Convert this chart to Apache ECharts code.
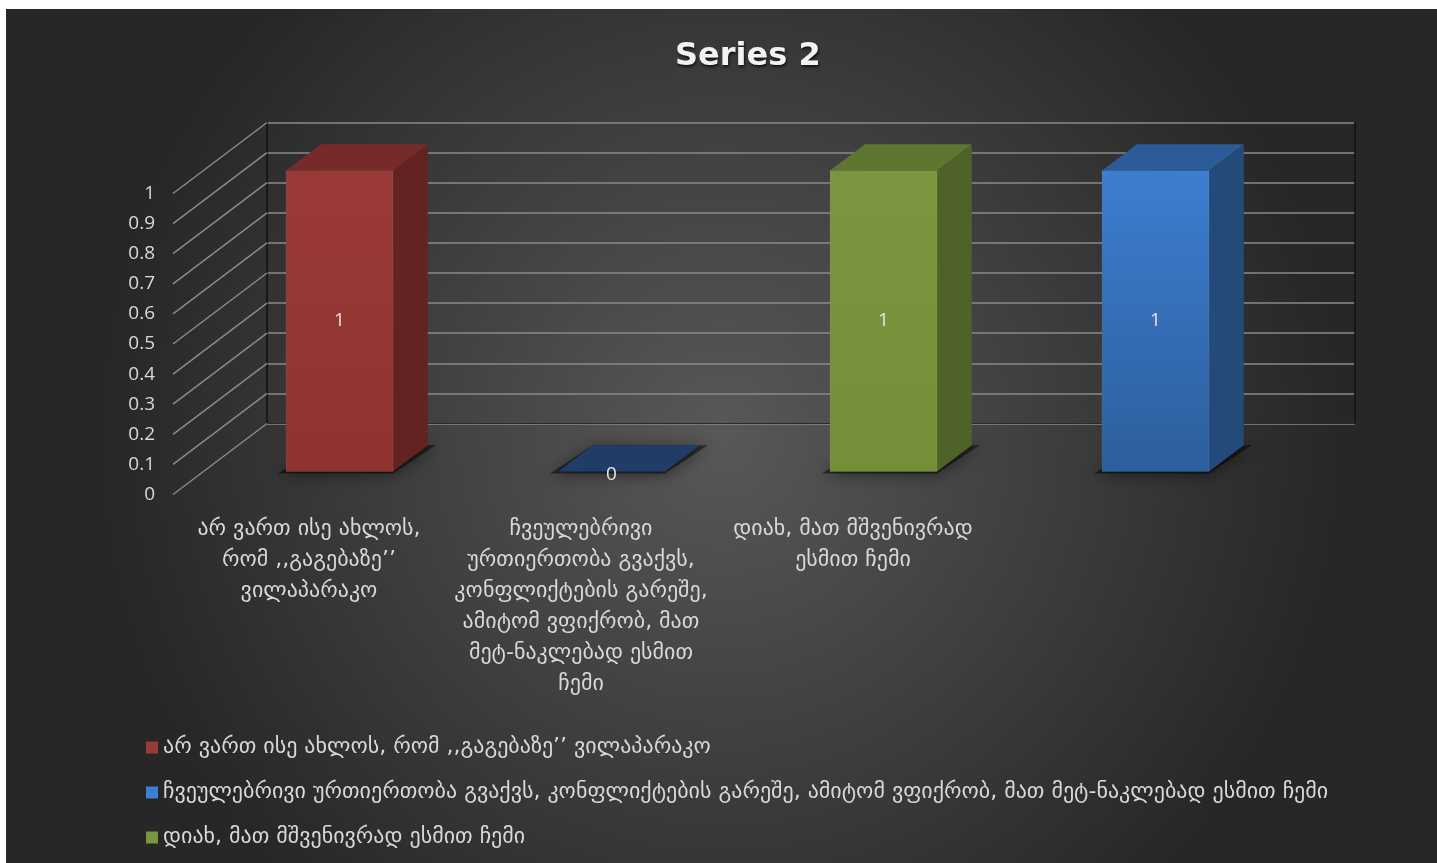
<!DOCTYPE html>
<html>
<head>
<meta charset="utf-8">
<script src="https://cdn.jsdelivr.net/npm/echarts@6/dist/echarts.min.js"></script>
<style>
html,body{margin:0;padding:0;background:#ffffff;}
#chart{width:1437px;height:863px;}
</style>
</head>
<body>
<div id="chart"></div>
<script>
// ---- data ----
const categories = [
  'არ ვართ ისე ახლოს, რომ ,,გაგებაზე’’ ვილაპარაკო',
  'ჩვეულებრივი ურთიერთობა გვაქვს, კონფლიქტების გარეშე, ამიტომ ვფიქრობ, მათ მეტ-ნაკლებად ესმით ჩემი',
  'დიახ, მათ მშვენივრად ესმით ჩემი',
  ''
];
const categoryLabels = [
  'არ ვართ ისე ახლოს,\nრომ ,,გაგებაზე’’\nვილაპარაკო',
  'ჩვეულებრივი\nურთიერთობა გვაქვს,\nკონფლიქტების გარეშე,\nამიტომ ვფიქრობ, მათ\nმეტ-ნაკლებად ესმით\nჩემი',
  'დიახ, მათ მშვენივრად\nესმით ჩემი',
  ''
];
const values = [1, 0, 1, 1];
const yTicks = [0, 0.1, 0.2, 0.3, 0.4, 0.5, 0.6, 0.7, 0.8, 0.9, 1];
const titleText = 'Series 2';

// ---- styles ----
const faceColors = [
  {front: ['#9a3a38', '#8e3331'], side: '#632322', top: '#762b2a'},
  {front: ['#3c7ed0', '#2d5e9c'], side: '#1a3356', top: '#1f3d67'},
  {front: ['#7a963e', '#739039'], side: '#4f6228', top: '#5f7631'},
  {front: ['#3c7ed0', '#2d5e9c'], side: '#244a7a', top: '#2c5c98'}
];
const DX = 94, DY = -71;          // full floor depth projection
const BAR_F = 0.325;              // bar front plane depth fraction
const BAR_D = 0.37;               // bar depth fraction
const BAR_W = 0.393;              // bar width fraction of band
const textColor = '#d9d9d9';
const geoFont = '"DejaVu Sans", "Noto Sans", sans-serif';

const FL = 173, FT = 193.5, FH = 301, FW = 1088;

const chart = echarts.init(document.getElementById('chart'), null, {renderer: 'canvas'});

function barRender(idx) {
  return function (params, api) {
    const i = api.value(0), v = api.value(1);
    const p0 = api.coord([i, 0]);
    const p1 = api.coord([i, v]);
    const bw = api.size([1, 0])[0] * BAR_W;
    const x = p0[0] - bw / 2;
    const dx = DX * BAR_D, dy = DY * BAR_D;
    const c = faceColors[idx];
    const children = [];
    children.push({
      type: 'polygon',
      shape: {points: [[x - 8, p0[1] + 2], [x + bw, p0[1] + 2], [x + bw + dx + 8, p0[1] + dy], [x + dx, p0[1] + dy]]},
      style: {fill: 'rgba(0,0,0,0.5)', shadowBlur: 16, shadowColor: 'rgba(0,0,0,0.85)', shadowOffsetY: 2}
    });
    if (p0[1] - p1[1] > 0.5) {
      children.push({
        type: 'polygon',
        shape: {points: [[x + bw, p1[1]], [x + bw + dx, p1[1] + dy], [x + bw + dx, p0[1] + dy], [x + bw, p0[1]]]},
        style: {fill: c.side}
      });
      children.push({
        type: 'rect',
        shape: {x: x, y: p1[1], width: bw, height: p0[1] - p1[1]},
        style: {
          fill: new echarts.graphic.LinearGradient(0, 0, 0, 1, [{offset: 0, color: c.front[0]}, {offset: 1, color: c.front[1]}]),
          stroke: 'rgba(255,255,255,0.08)', lineWidth: 1
        }
      });
    }
    children.push({
      type: 'polygon',
      shape: {points: [[x, p1[1]], [x + dx, p1[1] + dy], [x + bw + dx, p1[1] + dy], [x + bw, p1[1]]]},
      style: {fill: c.top}
    });
    const pc = api.coord([i, v / 2]);
    children.push({
      type: 'text',
      style: {
        text: String(v), x: pc[0], y: v === 0 ? pc[1] + 3 : pc[1],
        align: 'center', verticalAlign: 'middle',
        fill: '#e6e6e6', fontSize: 19, fontFamily: '"Open Sans", sans-serif'
      }
    });
    return {type: 'group', children: children};
  };
}

const barSeries = categories.map((name, idx) => ({
  type: 'custom',
  name: name,
  xAxisIndex: 2, yAxisIndex: 3,
  itemStyle: {color: faceColors[idx].front[0]},
  data: [[idx, values[idx]]],
  renderItem: barRender(idx),
  z: 5
}));

const option = {
  animation: false,
  graphic: [{
    type: 'rect', left: 6, top: 9, z: -10,
    shape: {width: 1431, height: 854},
    style: {
      fill: new echarts.graphic.RadialGradient(0.5, 0.5, 0.72, [
        {offset: 0, color: '#585858'}, {offset: 1, color: '#272727'}
      ])
    }
  }],
  title: {
    text: titleText, left: 670, top: 36,
    textStyle: {
      color: '#f2f2f2', fontSize: 32, fontWeight: 'bold', fontFamily: '"DejaVu Sans", sans-serif',
      textShadowColor: 'rgba(0,0,0,0.7)', textShadowBlur: 3, textShadowOffsetX: 1, textShadowOffsetY: 2
    }
  },
  legend: {
    orient: 'vertical', left: 141, top: 731,
    data: categories.filter(n => n),
    icon: 'rect', itemWidth: 12, itemHeight: 12, itemGap: 22,
    textStyle: {color: textColor, fontSize: 22, fontFamily: geoFont, lineHeight: 23}
  },
  grid: [
    {left: FL, top: FT, width: FW, height: FH},                                  // front (labels)
    {left: FL + DX, top: FT + DY, width: FW, height: FH},                        // back wall
    {left: FL + DX * BAR_F, top: FT + DY * BAR_F, width: FW, height: FH}         // bar front plane
  ],
  xAxis: [
    {
      gridIndex: 0, type: 'category', data: categories,
      axisLine: {show: false}, axisTick: {show: false},
      axisLabel: {
        interval: 0, margin: 19, color: textColor, fontSize: 22, lineHeight: 31, fontFamily: geoFont,
        formatter: (val, i) => categoryLabels[i]
      }
    },
    {gridIndex: 1, type: 'category', data: categories, show: true,
      axisLine: {show: true, lineStyle: {color: '#2a2a2a', width: 1}}, axisTick: {show: false}, axisLabel: {show: false}},
    {gridIndex: 2, type: 'category', data: categories, show: false}
  ],
  yAxis: [
    {
      gridIndex: 0, type: 'value', min: yTicks[0], max: yTicks[yTicks.length - 1], interval: 0.1,
      axisLine: {show: false}, axisTick: {show: false}, splitLine: {show: false},
      axisLabel: {color: textColor, fontSize: 19, margin: 18, fontFamily: '"Open Sans", "Liberation Sans", sans-serif'}
    },
    {
      gridIndex: 1, type: 'value', min: 0, max: 1, interval: 0.1,
      axisLine: {show: true, lineStyle: {color: '#111111', width: 1.5}}, axisTick: {show: false}, axisLabel: {show: false},
      splitLine: {show: true, lineStyle: {color: '#8a8a8a', width: 1.5}}
    },
    {
      gridIndex: 1, type: 'value', min: 0, max: 1, interval: 0.1, position: 'right',
      axisLine: {show: true, lineStyle: {color: '#111111', width: 1.5}}, axisTick: {show: false}, axisLabel: {show: false},
      splitLine: {show: false}
    },
    {gridIndex: 2, type: 'value', min: 0, max: 1, show: false}
  ],
  series: [
    {
      type: 'custom', name: '__walllines', xAxisIndex: 0, yAxisIndex: 0,
      data: yTicks.map(t => [0, t]),
      renderItem: function (params, api) {
        const y = api.coord([0, api.value(1)])[1];
        const x0 = params.coordSys.x;
        return {type: 'line', shape: {x1: x0, y1: y, x2: x0 + DX, y2: y + DY},
          style: {stroke: '#8a8a8a', lineWidth: 1.5}};
      },
      z: 1
    }
  ].concat(barSeries)
};
chart.setOption(option);
</script>
</body>
</html>
